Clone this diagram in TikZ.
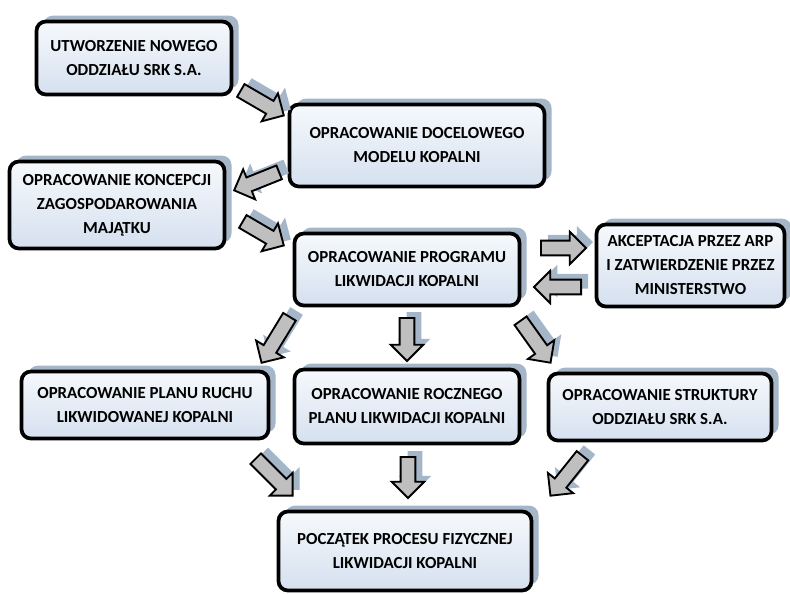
\documentclass[tikz,border=0pt]{standalone}
\usepackage{fontspec}
\setmainfont{Carlito}
\usetikzlibrary{shapes.arrows,shadows,calc}
\definecolor{boxtop}{HTML}{F6F9FC}
\definecolor{boxbottom}{HTML}{D5E0EF}
\definecolor{shade}{HTML}{A6B6C9}
\definecolor{arrowgray}{HTML}{BFBFBF}

\begin{document}
\begin{tikzpicture}[
                    x=0.03cm,
                    y=-0.03cm,
                    stage/.style={
                        rectangle,
                        rounded corners=8pt,
                        draw=black,
                        line width=3.2pt,
                        top color=boxtop,
                        bottom color=boxbottom,
                        inner sep=0pt,
                        align=center,
                        font=\fontsize{14.4}{20.5}\selectfont\bfseries,
                        general shadow={fill=shade, shadow xshift=6pt, shadow yshift=5pt}
                    },
                    flow/.style={
                        single arrow,
                        draw=black,
                        line width=1.6pt,
                        fill=arrowgray,
                        inner xsep=0pt,
                        inner ysep=5.5pt,
                        single arrow head extend=7.5pt,
                        anchor=tail,
                        general shadow={fill=shade, shadow xshift=6pt, shadow yshift=5pt}
                    }
                ]
                \useasboundingbox (0,0) rectangle (790,594);
                \newcommand{\mkstage}[5]{
                    \node (#1) [stage, minimum width=#4*0.03cm, minimum height=#5*0.03cm] at (#2) {#3};
                }
                \newcommand{\mkflow}[2]{
                    \path let \p1=($(#2)-(#1)$), \n1={atan2(\y1,\x1)}, \n2={veclen(\x1,\y1)} in
                        node [flow, rotate=\n1, minimum height=\n2] at (#1) {};
                }
                \mkstage{utworzenie}{134,58}{UTWORZENIE NOWEGO\\ODDZIAŁU SRK S.A.}{195}{73}
                \mkstage{model}{417,145.5}{OPRACOWANIE DOCELOWEGO\\MODELU KOPALNI}{255}{82}
                \mkstage{koncepcja}{117,205}{OPRACOWANIE KONCEPCJI\\ZAGOSPODAROWANIA\\MAJĄTKU}{215}{87}
                \mkstage{program}{407,269.5}{OPRACOWANIE PROGRAMU\\LIKWIDACJI KOPALNI}{225}{72}
                \mkstage{akceptacja}{690.5,265.5}{AKCEPTACJA PRZEZ ARP\\I ZATWIERDZENIE PRZEZ\\MINISTERSTWO}{188}{82}
                \mkstage{planruchu}{145,405}{OPRACOWANIE PLANU RUCHU\\LIKWIDOWANEJ KOPALNI}{247}{67}
                \mkstage{planroczny}{407,406.5}{OPRACOWANIE ROCZNEGO\\PLANU LIKWIDACJI KOPALNI}{225}{74}
                \mkstage{struktura}{660,407}{OPRACOWANIE STRUKTURY\\ODDZIAŁU SRK S.A.}{223}{67}
                \mkstage{poczatek}{405,551}{POCZĄTEK PROCESU FIZYCZNEJ\\LIKWIDACJI KOPALNI}{253}{79}

                % arrow ends between the boxes
                \coordinate (u-m) at (240,90);   \coordinate (m-u) at (283,115);
                \coordinate (m-k) at (280,172);  \coordinate (k-m) at (235,190);
                \coordinate (k-p) at (242,221);  \coordinate (p-k) at (283,245);
                \coordinate (p-a) at (540,248);  \coordinate (a-p) at (585,248);
                \coordinate (a-q) at (582,287);  \coordinate (q-a) at (535,287);
                \coordinate (p-r) at (290,316);  \coordinate (r-p) at (262,362);
                \coordinate (p-l) at (407,317);  \coordinate (l-p) at (407,360);
                \coordinate (p-s) at (520,320);  \coordinate (s-p) at (550,362);
                \coordinate (r-z) at (255,458);  \coordinate (z-r) at (292,495);
                \coordinate (l-z) at (408,456);  \coordinate (z-l) at (408,497);
                \coordinate (s-z) at (583,455);  \coordinate (z-s) at (551,495);

                \mkflow{u-m}{m-u}
                \mkflow{m-k}{k-m}
                \mkflow{k-p}{p-k}
                \mkflow{p-a}{a-p}
                \mkflow{a-q}{q-a}
                \mkflow{p-r}{r-p}
                \mkflow{p-l}{l-p}
                \mkflow{p-s}{s-p}
                \mkflow{r-z}{z-r}
                \mkflow{l-z}{z-l}
                \mkflow{s-z}{z-s}
            \end{tikzpicture}
\end{document}
